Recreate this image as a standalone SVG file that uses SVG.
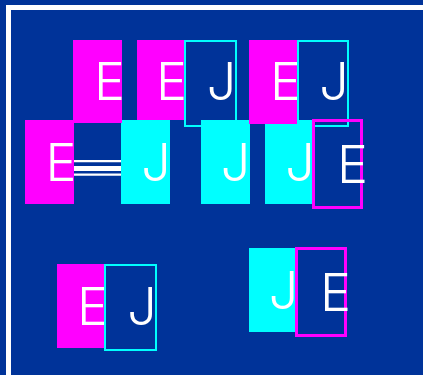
<svg xmlns="http://www.w3.org/2000/svg" width="423" height="375" viewBox="0 0 423 375">
<style>
.m{fill:#FF00FF}
.c{fill:#00FFFF}
.co{fill:none;stroke:#00FFFF;stroke-width:2}
.mo{fill:none;stroke:#FF00FF;stroke-width:3}
.t{font-family:Inter,Lato,"Liberation Sans",sans-serif;font-weight:300;font-size:52px;fill:#FFFFFF;text-anchor:middle}
.w{stroke:#FFFFFF;fill:none}
</style>
<rect x="0" y="0" width="423" height="375" fill="#003399"/>
<rect x="8.5" y="7.5" width="418" height="370" fill="none" stroke="#FFFFFF" stroke-width="5"/>
<g id="connectors">
<line class="w" x1="74" y1="161.2" x2="121" y2="161.2" stroke-width="2.2"/>
<line class="w" x1="74" y1="168.5" x2="121" y2="168.5" stroke-width="5"/>
<line class="w" x1="74" y1="174.6" x2="121" y2="174.6" stroke-width="2.2"/>
</g>
<g id="n-r2-e"><rect class="m" x="25" y="120" width="49" height="84"/><text class="t" x="61" y="181">E</text></g>
<g id="n-r2-j1"><rect class="c" x="121" y="120" width="49" height="84"/><text class="t" x="156" y="181">J</text></g>
<g id="n-r2-j2"><rect class="c" x="201" y="120" width="49" height="84"/><text class="t" x="235.5" y="181">J</text></g>
<g id="n-r2-j3"><rect class="c" x="265" y="120" width="48" height="84"/><text class="t" x="300" y="181">J</text></g>
<g id="n-r1-e1"><rect class="m" x="73" y="40" width="49" height="83"/><text class="t" x="109.5" y="100">E</text></g>
<g id="n-r1-e2"><rect class="m" x="137" y="40" width="47" height="80"/><text class="t" x="171.5" y="100">E</text></g>
<g id="n-r1-j1"><rect class="co" x="185" y="41" width="51" height="85"/><text class="t" x="221.5" y="100">J</text></g>
<g id="n-r1-e3"><rect class="m" x="249" y="40" width="49" height="84"/><text class="t" x="285.5" y="100">E</text></g>
<g id="n-r1-j2"><rect class="co" x="298" y="41" width="50" height="85"/><text class="t" x="334" y="100">J</text></g>
<g id="n-r2-e2"><rect class="mo" x="313.5" y="120.5" width="48" height="87"/><text class="t" x="352.5" y="182.5">E</text></g>
<g id="n-r3-e"><rect class="m" x="57" y="264" width="48" height="84"/><text class="t" x="92.5" y="324.5">E</text></g>
<g id="n-r3-j"><rect class="co" x="105" y="265" width="51" height="85"/><text class="t" x="142" y="325">J</text></g>
<g id="n-r3-j2"><rect class="c" x="249" y="248" width="48" height="84"/><text class="t" x="283.5" y="309">J</text></g>
<g id="n-r3-e2"><rect class="mo" x="296.5" y="248.5" width="49" height="87"/><text class="t" x="335.5" y="310.5">E</text></g>
</svg>
